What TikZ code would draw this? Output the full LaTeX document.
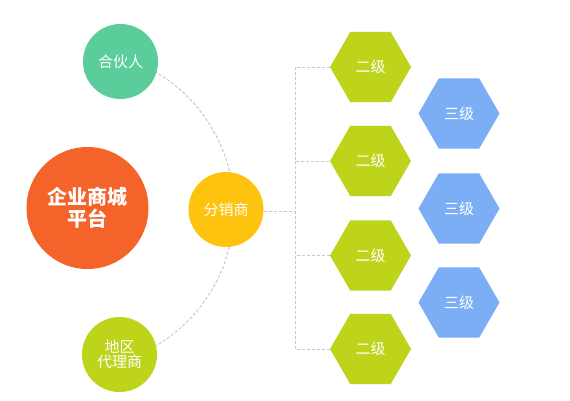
\documentclass[tikz,border=0pt]{standalone}
\usepackage{fontspec}
\setmainfont{Noto Sans CJK SC}
\usetikzlibrary{shapes.geometric}
\definecolor{cgreen}{HTML}{5ACD9A}
\definecolor{corange}{HTML}{F4632A}
\definecolor{cyellow}{HTML}{FEC30F}
\definecolor{clime}{HTML}{BDD41A}
\definecolor{cblue}{HTML}{7BAEF5}
\definecolor{cdash}{HTML}{C8C8C8}
\tikzset{
  circ/.style={circle, inner sep=0pt, outer sep=0pt, text=white, font=\fontsize{15}{18}\selectfont, align=center},
  hexa/.style={regular polygon, regular polygon sides=6, minimum size=81pt, inner sep=0pt, outer sep=0pt, text=white, font=\fontsize{15}{18}\selectfont},
  link/.style={draw=cdash, line width=1pt, dash pattern=on 3pt off 2pt}
}
\begin{document}
\begin{tikzpicture}[x=1pt,y=-1pt]
\useasboundingbox[fill=white] (0,0) rectangle (570,400);
% arc behind circles
\draw[link] (75,209) ++(-60:159) arc[start angle=-60, end angle=60, radius=159];
% nodes
\node[circ, fill=cgreen, minimum size=75pt] (hhr) at (120.5,61.5) {合伙人};
\node[circ, fill=corange, minimum size=122pt, font=\fontsize{20}{24}\selectfont\bfseries] (plat) at (87.5,208) {企业商城\\[-2pt]平台};
\node[circ, fill=cyellow, minimum size=75pt] (fxs) at (226,209.5) {分销商};
\node[circ, fill=clime, minimum size=75pt] (dq) at (119.5,354.5) {地区\\[-3pt]代理商};
\node[hexa, fill=clime] (e1) at (370.5,67) {二级};
\node[hexa, fill=clime] (e2) at (370.5,161) {二级};
\node[hexa, fill=clime] (e3) at (370.5,255.5) {二级};
\node[hexa, fill=clime] (e4) at (370.5,349) {二级};
\node[hexa, fill=cblue] (s1) at (459,113.5) {三级};
\node[hexa, fill=cblue] (s2) at (459,208.5) {三级};
\node[hexa, fill=cblue] (s3) at (459,302.5) {三级};
% tree connectors
\coordinate (j) at (295,211);
\draw[link] (fxs.east |- j) -- (j);
\draw[link] (e1.west) -| (295,161) |- (e2.west);
\draw[link] (295,161) -- (295,255.5);
\draw[link] (e4.west) -| (295,255.5) |- (e3.west);
\end{tikzpicture}
\end{document}
